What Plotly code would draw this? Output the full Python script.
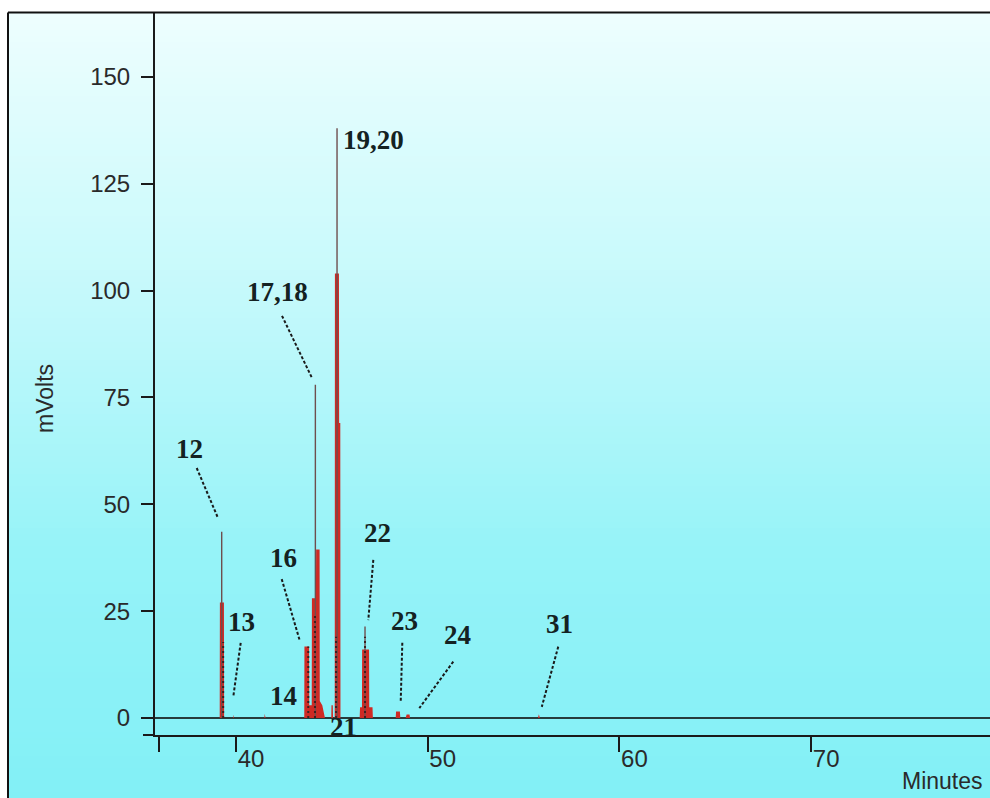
import plotly.graph_objects as go

# Chromatogram trace vertices: retention time (min) and detector signal (mV)
signal_min = [35.78, 39.15, 39.16, 39.37, 39.38, 39.84, 39.86, 39.88,
              41.48, 41.50, 41.54, 43.56, 43.57, 43.81, 43.82, 43.95,
              43.96, 44.17, 44.18, 44.36, 44.37, 44.50, 44.64, 44.97,
              44.98, 45.05, 45.06, 45.15, 45.16, 45.37, 45.38, 45.44,
              45.45, 46.45, 46.47, 46.57, 46.58, 46.94, 46.95, 47.12,
              47.14, 48.33, 48.35, 48.55, 48.57, 48.85, 48.90, 49.05,
              49.08, 55.75, 55.80, 55.85, 79.33]
signal_mv = [0.0, 0.0, 27.0, 27.0, 0.0, 0.0, 0.8, 0.0,
             0.0, 1.0, 0.0, 0.0, 16.7, 16.7, 3.0, 3.0,
             28.0, 28.0, 39.4, 39.4, 4.0, 3.0, 0.0, 0.0,
             3.0, 3.0, 0.0, 0.0, 104.0, 104.0, 69.0, 69.0,
             0.0, 0.0, 2.5, 2.5, 16.0, 16.0, 2.5, 2.5,
             0.0, 0.0, 1.5, 1.5, 0.0, 0.0, 0.8, 0.8,
             0.0, 0.0, 0.9, 0.0, 0.0]

# Narrow apex spikes on top of the filled peaks
apex_min = [39.254, 44.14, 45.27, 46.73]
apex_mv = [43.6, 78.0, 138.0, 21.4]

# Noisy detector strips inside the filled peaks
strip_min = [39.33, 43.77, 44.12, 45.22, 46.73]
strip_mv = [17.8, 16.7, 24.5, 19.0, 19.0]

# Peak numbers and where they are written
peak_labels = ["12", "13", "14", "16", "17,18", "19,20", "21", "22", "23", "24", "31"]
label_min = [37.60, 40.29, 42.48, 42.48, 42.19, 47.15, 45.63, 47.38, 48.79, 51.56, 56.90]
label_mv = [62.9, 22.5, 5.2, 37.4, 99.7, 135.3, -2.1, 43.3, 22.7, 19.4, 22.0]

# Dotted leader lines from a label to its peak
leader_labels = ["12", "13", "16", "17,18", "22", "23", "24", "31"]
leader_min_from = [37.95, 40.245, 42.384, 42.40, 47.162, 48.675, 51.335, 56.81]
leader_mv_from = [58.5, 17.6, 32.5, 94.1, 37.0, 17.6, 13.2, 16.7]
leader_min_to = [39.06, 39.859, 43.339, 43.96, 46.901, 48.592, 49.562, 55.95]
leader_mv_to = [46.8, 5.0, 17.9, 79.6, 22.9, 3.8, 2.3, 2.6]

# Axis ticks
x_tickvals = [36, 40, 50, 60, 70]
x_ticktext = ["", "40", "50", "60", "70"]
y_tickvals = [0, 25, 50, 75, 100, 125, 150]
y_ticktext = ["0", "25", "50", "75", "100", "125", "150"]

W, H = 990, 798
ML, MR, MT, MB = 155, 0, 12, 63
PW, PH = W - ML - MR, H - MT - MB


def px_x(p):
    return (p - ML) / PW


def px_y(p):
    return (H - MB - p) / PH


AXIS = "#1a1a1a"
RED = "#cf2a24"

fig = go.Figure()

fig.add_trace(go.Scatter(
    x=signal_min, y=signal_mv, mode="lines",
    line=dict(color=RED, width=0),
    fill="tozeroy", fillcolor=RED,
    hoverinfo="skip", showlegend=False,
))

ax, ay = [], []
for t, v in zip(apex_min, apex_mv):
    ax += [t, t, None]
    ay += [0, v, None]
fig.add_trace(go.Scatter(
    x=ax, y=ay, mode="lines",
    line=dict(color="#6e4e4e", width=1.4),
    hoverinfo="skip", showlegend=False,
))

sx, sy = [], []
for t, v in zip(strip_min, strip_mv):
    sx += [t, t, None]
    sy += [0, v, None]
fig.add_trace(go.Scatter(
    x=sx, y=sy, mode="lines",
    line=dict(color="#3a2020", width=2, dash="2px,3px"),
    hoverinfo="skip", showlegend=False,
))

shapes = []

# Vertical background gradient behind the framed area
stops = [(12, (238, 254, 254)), (300, (196, 249, 251)),
         (550, (150, 243, 248)), (798, (130, 240, 246))]


def grad_color(p):
    for (p0, c0), (p1, c1) in zip(stops[:-1], stops[1:]):
        if p0 <= p <= p1:
            f = (p - p0) / (p1 - p0)
            return "rgb(%d,%d,%d)" % tuple(round(a + (b - a) * f) for a, b in zip(c0, c1))
    return "rgb(%d,%d,%d)" % stops[-1][1]


step = 6
p = 12
while p < H:
    q = min(p + step, H)
    shapes.append(dict(type="rect", xref="paper", yref="paper",
                       x0=px_x(8), x1=px_x(W + 2), y0=px_y(q + 0.5), y1=px_y(p),
                       fillcolor=grad_color((p + q) / 2), line=dict(width=0),
                       layer="below"))
    p = q

# Outer frame
shapes.append(dict(type="line", xref="paper", yref="paper",
                   x0=px_x(8), x1=px_x(W + 2), y0=px_y(12.5), y1=px_y(12.5),
                   line=dict(color="#111111", width=2), layer="above"))
shapes.append(dict(type="line", xref="paper", yref="paper",
                   x0=px_x(8), x1=px_x(8), y0=px_y(12.5), y1=px_y(H + 2),
                   line=dict(color="#111111", width=2), layer="above"))
# Short stub of the x axis left of the y axis
shapes.append(dict(type="line", xref="paper", yref="paper",
                   x0=px_x(143), x1=0, y0=0, y1=0,
                   line=dict(color=AXIS, width=2), layer="above"))

for a, b, c, d in zip(leader_min_from, leader_mv_from, leader_min_to, leader_mv_to):
    shapes.append(dict(type="line", xref="x", yref="y", x0=a, y0=b, x1=c, y1=d,
                       line=dict(color="#1a1a1a", width=2, dash="3px,2px"),
                       layer="above"))

annotations = []
for txt, t, v in zip(peak_labels, label_min, label_mv):
    annotations.append(dict(
        x=t, y=v, xref="x", yref="y", text="<b>%s</b>" % txt, showarrow=False,
        xanchor="center", yanchor="middle",
        font=dict(family="Liberation Serif", size=27, color="#142222"),
    ))

annotations.append(dict(
    x=px_x(45), y=px_y(398), xref="paper", yref="paper", text="mVolts",
    textangle=-90, showarrow=False, xanchor="center", yanchor="middle",
    font=dict(family="Liberation Sans", size=23, color="#2a2a2a"),
))
annotations.append(dict(
    x=px_x(985), y=px_y(781), xref="paper", yref="paper", text="Minutes",
    showarrow=False, xanchor="right", yanchor="middle",
    font=dict(family="Liberation Sans", size=23, color="#2a2a2a"),
))

fig.update_layout(
    width=W, height=H,
    margin=dict(l=ML, r=MR, t=MT, b=MB, pad=0),
    paper_bgcolor="white",
    plot_bgcolor="rgba(0,0,0,0)",
    showlegend=False,
    shapes=shapes,
    annotations=annotations,
    xaxis=dict(
        range=[35.775, 79.33], tickvals=x_tickvals, ticktext=x_ticktext,
        ticks="outside", ticklen=15, tickwidth=2, tickcolor=AXIS,
        showline=True, linewidth=2, linecolor=AXIS,
        showgrid=False, zeroline=False,
        ticklabelshift=15, ticklabelstandoff=-14,
        tickfont=dict(family="Liberation Sans", size=24, color="#2a2a2a"),
    ),
    yaxis=dict(
        range=[-3.98, 165.2], tickvals=y_tickvals, ticktext=y_ticktext,
        ticks="outside", ticklen=12, tickwidth=2, tickcolor=AXIS,
        showline=True, linewidth=2, linecolor=AXIS,
        showgrid=False, zeroline=True, zerolinecolor="#263c3c", zerolinewidth=2,
        ticklabelstandoff=6,
        tickfont=dict(family="Liberation Sans", size=24, color="#2a2a2a"),
    ),
)

fig.write_html("out.html")
